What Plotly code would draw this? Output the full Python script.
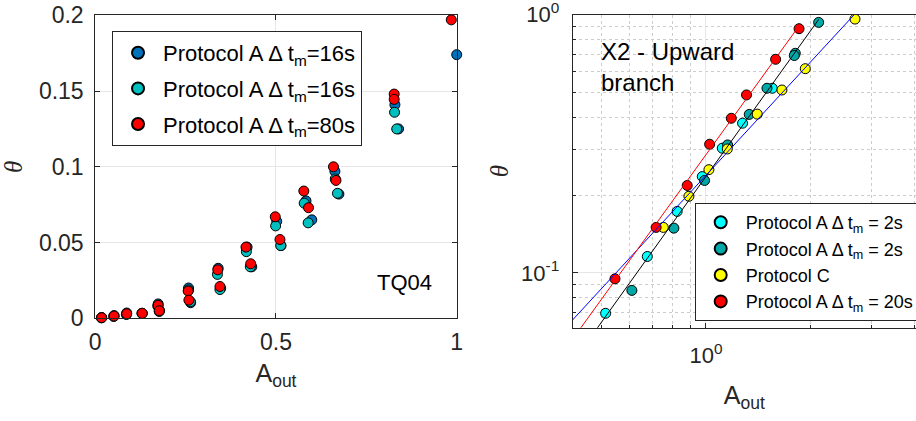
import numpy as np
import plotly.graph_objects as go

# ---------------- Left panel data (TQ04) ----------------
left_names = ["Protocol A Δ t<sub>m</sub>=16s", "Protocol A Δ t<sub>m</sub>=16s", "Protocol A Δ t<sub>m</sub>=80s"]
left_colors = ["#0072BD", "#00BFBF", "#FF0000"]

blue16_A = [0.018, 0.052, 0.087, 0.130, 0.174, 0.178, 0.258, 0.264, 0.340, 0.347, 0.420, 0.433,
            0.502, 0.514, 0.583, 0.599, 0.663, 0.674, 0.829, 0.839, 1.000]
blue16_theta = [0.0005, 0.0018, 0.0035, 0.0033, 0.0095, 0.0052, 0.020, 0.0103, 0.033, 0.0198, 0.047, 0.034,
                0.064, 0.048, 0.0775, 0.065, 0.097, 0.082, 0.141, 0.125, 0.174]

cyan16_A = [0.017, 0.051, 0.086, 0.129, 0.173, 0.177, 0.258, 0.263, 0.338, 0.345, 0.418, 0.429,
            0.499, 0.513, 0.578, 0.589, 0.664, 0.670, 0.828, 0.834, 1.002]
cyan16_theta = [0.0003, 0.0012, 0.0025, 0.0033, 0.0080, 0.0045, 0.0187, 0.011, 0.029, 0.019, 0.044, 0.034,
                0.061, 0.048, 0.076, 0.063, 0.092, 0.0825, 0.136, 0.125, 0.169]

red80_A = [0.0175, 0.052, 0.087, 0.130, 0.174, 0.177, 0.257, 0.259, 0.339, 0.345, 0.417, 0.430,
           0.498, 0.511, 0.577, 0.590, 0.659, 0.666, 0.827, 0.827, 0.985]
red80_theta = [0.0004, 0.0015, 0.003, 0.0033, 0.0086, 0.005, 0.018, 0.012, 0.032, 0.021, 0.047, 0.036,
               0.067, 0.052, 0.084, 0.073, 0.100, 0.091, 0.148, 0.1445, 0.197]

left_ticks_x = [0, 0.5, 1]
left_ticklabels_x = ["0", "0.5", "1"]
left_ticks_y = [0, 0.05, 0.1, 0.15, 0.2]
left_ticklabels_y = ["0", "0.05", "0.1", "0.15", "0.2"]

# ---------------- Right panel data (X2 - Upward branch) ----------------
right_names = ["Protocol A Δ t<sub>m</sub> = 2s", "Protocol A Δ t<sub>m</sub> = 2s",
               "Protocol C", "Protocol A Δ t<sub>m</sub> = 20s"]
right_colors = ["#00FFFF", "#00A8A8", "#FFFF00", "#FF0000"]

cyan2_A = [0.513, 0.677, 0.826, 0.976, 1.115, 1.276, 1.555]
cyan2_theta = [0.0697, 0.1157, 0.173, 0.236, 0.304, 0.380, 0.519]

teal2_A = [0.611, 0.808, 0.991, 1.155, 1.334, 1.501, 1.812, 1.800, 2.117]
teal2_theta = [0.0855, 0.149, 0.228, 0.313, 0.411, 0.519, 0.709, 0.695, 0.934]

yellowC_A = [0.753, 0.893, 1.020, 1.153, 1.407, 1.658, 1.937, 2.696]
yellowC_theta = [0.150, 0.198, 0.251, 0.302, 0.412, 0.511, 0.618, 0.962]

red20_A = [0.546, 0.718, 0.883, 1.025, 1.184, 1.310, 1.590, 1.858]
red20_theta = [0.0948, 0.150, 0.218, 0.315, 0.397, 0.489, 0.672, 0.883]

fit_A_start = 0.35  # fit lines start left of the visible range (clipped)

right_major_x = [1]
right_major_x_text = ["10<sup>0</sup>"]
right_minor_x = [0.5, 0.6, 0.7, 0.8, 0.9, 2, 3, 4]
right_major_y = [0.1, 1]
right_major_y_text = ["10<sup>-1</sup>", "10<sup>0</sup>"]
right_minor_y = [0.07, 0.08, 0.09, 0.2, 0.3, 0.4, 0.5, 0.6, 0.7, 0.8, 0.9]

# ---------------- Figure ----------------
fig = go.Figure()
FONT = "Liberation Sans, Arial, sans-serif"
AX = "#262626"
GRID = "#e6e6e6"

left_series = [(blue16_A, blue16_theta), (cyan16_A, cyan16_theta), (red80_A, red80_theta)]
for i, (xa, ya) in enumerate(left_series):
    fig.add_trace(go.Scatter(
        x=xa, y=ya, mode="markers", name=left_names[i], legend="legend", legendgroup=f"l{i}",
        marker=dict(size=10, color=left_colors[i], line=dict(color="black", width=1)),
        xaxis="x", yaxis="y", cliponaxis=False))

right_series = [(cyan2_A, cyan2_theta), (teal2_A, teal2_theta), (yellowC_A, yellowC_theta), (red20_A, red20_theta)]
for i, (xa, ya) in enumerate(right_series):
    fig.add_trace(go.Scatter(
        x=xa, y=ya, mode="markers", name=right_names[i], legend="legend2", legendgroup=f"r{i}",
        marker=dict(size=10, color=right_colors[i], line=dict(color="black", width=1)),
        xaxis="x2", yaxis="y2"))

# power-law fits (straight lines in log-log space)
fits = [
    (cyan2_A + teal2_A, cyan2_theta + teal2_theta, "black"),
    (yellowC_A, yellowC_theta, "#0000FF"),
    (red20_A, red20_theta, "#FF0000"),
]
for xa, ya, col in fits:
    p = np.polyfit(np.log10(xa), np.log10(ya), 1)
    xs = np.array([fit_A_start, max(xa)])
    ys = 10 ** np.polyval(p, np.log10(xs))
    fig.add_trace(go.Scatter(x=xs, y=ys, mode="lines", line=dict(color=col, width=1),
                             showlegend=False, xaxis="x2", yaxis="y2", hoverinfo="skip"))

common = dict(showline=True, linecolor=AX, linewidth=1, ticks="inside", tickcolor=AX,
              zeroline=False, automargin=False, ticklabeloverflow="allow")
tf_left = dict(family=FONT, size=23, color="#262626")
tf_right = dict(family=FONT, size=22, color="#262626")
xtitle_font = dict(family=FONT, size=25, color="#262626")
ytitle_font = dict(family="Liberation Serif, serif", size=25, color="#262626")

fig.update_layout(
    width=916, height=421,
    margin=dict(l=0, r=0, t=0, b=0, autoexpand=False),
    paper_bgcolor="white", plot_bgcolor="white",
    showlegend=True,
    xaxis=dict(domain=[0.104, 0.4986], anchor="y", range=[0, 1], tickvals=left_ticks_x,
               ticktext=left_ticklabels_x, tickfont=tf_left,
               title=dict(text="A<sub>out</sub>", font=xtitle_font, standoff=10),
               showgrid=True, gridcolor=GRID, mirror="ticks", ticklen=5, ticklabelstandoff=3, **common),
    yaxis=dict(domain=[0.2439, 0.9637], anchor="x", range=[0, 0.2], tickvals=left_ticks_y,
               ticktext=left_ticklabels_y, tickfont=tf_left,
               title=dict(text="<i>θ</i>", font=ytitle_font, standoff=14),
               showgrid=True, gridcolor=GRID, mirror="ticks", ticklen=5, ticklabelstandoff=6, **common),
    xaxis2=dict(domain=[0.6252, 1.0], anchor="y2", type="log", range=[-0.385, 0.607], tickvals=right_major_x,
                ticktext=right_major_x_text, tickfont=tf_right,
                title=dict(text="A<sub>out</sub>", font=xtitle_font, standoff=19),
                showgrid=True, gridcolor=GRID, mirror=True, ticklen=5, ticklabelstandoff=8,
                minor=dict(tickvals=right_minor_x, showgrid=True, griddash="dot", gridcolor="#cccccc",
                           ticks="inside", ticklen=3, tickcolor=AX),
                **common),
    yaxis2=dict(domain=[0.2216, 0.965], anchor="x2", type="log", range=[-1.2126, 0], tickvals=right_major_y,
                ticktext=right_major_y_text, tickfont=tf_right,
                title=dict(text="<i>θ</i>", font=ytitle_font, standoff=5),
                showgrid=True, gridcolor=GRID, mirror=False, ticklen=5, ticklabelstandoff=8,
                minor=dict(tickvals=right_minor_y, showgrid=True, griddash="dot", gridcolor="#cccccc",
                           ticks="inside", ticklen=3, tickcolor=AX),
                **common),
    legend=dict(x=0.1223, y=0.9264, xanchor="left", yanchor="top", bgcolor="white",
                bordercolor=AX, borderwidth=1, font=dict(family=FONT, size=22, color="black"),
                tracegroupgap=4, itemsizing="constant", itemwidth=40),
    legend2=dict(x=0.7584, y=0.5178, xanchor="left", yanchor="top", bgcolor="white",
                 bordercolor=AX, borderwidth=1, font=dict(family=FONT, size=18, color="black"),
                 tracegroupgap=0, itemsizing="constant", itemwidth=40),
    annotations=[
        dict(text="TQ04", x=404, y=421 - 297, xref="paper", yref="paper", showarrow=False,
             font=dict(family=FONT, size=22, color="black")),
        dict(text="X2 - Upward<br>branch", x=599, y=421 - 36, xref="paper", yref="paper",
             xanchor="left", yanchor="top", align="left", showarrow=False,
             font=dict(family=FONT, size=24, color="black")),
    ],
)

# convert pixel annotation coordinates to paper fractions
for ann in fig.layout.annotations:
    ann.x = ann.x / 916
    ann.y = ann.y / 421

fig.write_html("out.html", config={"displayModeBar": False},
               post_script="document.body.style.margin='0px';")
